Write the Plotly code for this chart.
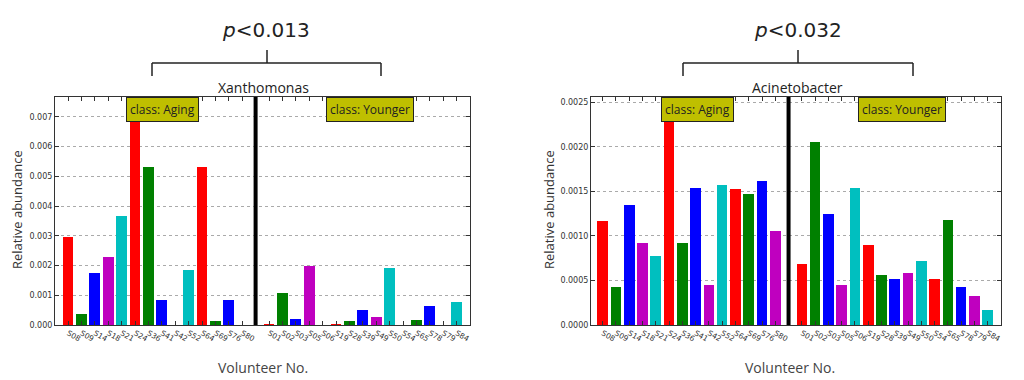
import plotly.graph_objects as go

# ---------------- data ----------------
aging_ids = ["S08", "S09", "S14", "S18", "S21", "S24", "S36", "S41", "S42", "S52", "S64", "S69", "S76", "S80"]
younger_ids = ["S01", "S02", "S03", "S05", "S06", "S19", "S28", "S39", "S49", "S50", "S54", "S65", "S78", "S79", "S84"]

xantho_aging = [0.00297, 0.00036, 0.00176, 0.00230, 0.00366, 0.00850, 0.00533, 0.00085, 0.0, 0.00186, 0.00532, 0.00013, 0.00084, 0.0]
xantho_younger = [0.00003, 0.00107, 0.00019, 0.00199, 0.0, 0.00003, 0.00012, 0.00050, 0.00027, 0.00193, 0.0, 0.00018, 0.00064, 0.0, 0.00076]

acineto_aging = [0.00117, 0.00043, 0.00135, 0.00092, 0.00077, 0.00300, 0.00092, 0.00154, 0.00045, 0.00157, 0.00153, 0.00147, 0.00162, 0.00105]
acineto_younger = [0.00069, 0.00205, 0.00125, 0.00045, 0.00154, 0.00090, 0.00056, 0.00052, 0.00058, 0.00072, 0.00052, 0.00118, 0.00043, 0.00033, 0.00017]

panel_titles = ["Xanthomonas", "Acinetobacter"]
p_values = ["0.013", "0.032"]
y_ranges = [[0, 0.00767], [0, 0.00256]]
y_ticks = [[0.000, 0.001, 0.002, 0.003, 0.004, 0.005, 0.006, 0.007],
           [0.0, 0.0005, 0.0010, 0.0015, 0.0020, 0.0025]]
y_tick_text = [["0.000", "0.001", "0.002", "0.003", "0.004", "0.005", "0.006", "0.007"],
               ["0.0000", "0.0005", "0.0010", "0.0015", "0.0020", "0.0025"]]

palette = ["#ff0000", "#008000", "#0000ff", "#bf00bf", "#00bfbf"]

# ---------------- layout helpers ----------------
OFF = 8          # page body margin
W, H = 1024 - OFF, 380 - OFF


def px(x):
    return (x - OFF) / W


def py(y):
    return 1 - (y - OFF) / H


n_aging = len(aging_ids)
sep_slot = n_aging
aging_x = list(range(n_aging))
younger_x = [sep_slot + 1 + i for i in range(len(younger_ids))]
tickvals = aging_x + younger_x
ticktext = aging_ids + younger_ids

x_domains = [[px(55), px(470)], [px(591), px(1001)]]
y_domain = [py(325), py(97)]
x_ranges = [[-0.97, 30], [-0.88, 30]]

fig = go.Figure()

panels = [(xantho_aging, xantho_younger), (acineto_aging, acineto_younger)]
for k, (ag, yo) in enumerate(panels):
    xa = "x" if k == 0 else "x2"
    ya = "y" if k == 0 else "y2"
    fig.add_trace(go.Bar(x=aging_x, y=ag, width=0.8,
                         marker=dict(color=[palette[i % 5] for i in range(len(ag))], line=dict(width=0)),
                         xaxis=xa, yaxis=ya, showlegend=False))
    fig.add_trace(go.Bar(x=younger_x, y=yo, width=0.8,
                         marker=dict(color=[palette[i % 5] for i in range(len(yo))], line=dict(width=0)),
                         xaxis=xa, yaxis=ya, showlegend=False))
    # separator between groups
    fig.add_shape(type="line", xref=xa, yref=ya + " domain", x0=sep_slot, x1=sep_slot, y0=0, y1=1,
                  line=dict(color="black", width=4))

axis_common = dict(showline=True, linecolor="#333", linewidth=1, mirror="allticks",
                   ticks="inside", ticklen=4, tickcolor="#333", zeroline=False)

for k in range(2):
    sfx = "" if k == 0 else "2"
    fig.layout["xaxis" + sfx] = dict(
        domain=x_domains[k], range=x_ranges[k], anchor="y" + sfx,
        tickmode="array", tickvals=tickvals, ticktext=ticktext, tickangle=30,
        tickfont=dict(family="DejaVu Sans", size=7.5, color="#333"),
        showgrid=False, automargin=False, **axis_common)
    fig.layout["yaxis" + sfx] = dict(
        domain=y_domain, range=y_ranges[k], anchor="x" + sfx,
        tickmode="array", tickvals=y_ticks[k], ticktext=y_tick_text[k],
        tickfont=dict(family="DejaVu Sans", size=8, color="#333"),
        showgrid=True, gridcolor="#aaa", griddash="dot", gridwidth=1,
        automargin=False, **axis_common)

annotations = []
shapes_extra = []
for k in range(2):
    # panel title
    annotations.append(dict(text=panel_titles[k], xref="paper", yref="paper",
                            x=px(263 if k == 0 else 797), y=py(87),
                            showarrow=False, font=dict(family="Open Sans", size=14, color="#222"),
                            xanchor="center", yanchor="middle"))
    # y title
    annotations.append(dict(text="Relative abundance", xref="paper", yref="paper",
                            x=px(17 if k == 0 else 549), y=py(210), textangle=-90,
                            showarrow=False, font=dict(family="Open Sans", size=13, color="#333"),
                            xanchor="center", yanchor="middle"))
    # x title
    annotations.append(dict(text="Volunteer No.", xref="paper", yref="paper",
                            x=px(263 if k == 0 else 790), y=py(367),
                            showarrow=False, font=dict(family="Open Sans", size=14, color="#444"),
                            xanchor="center", yanchor="middle"))
    # p value
    annotations.append(dict(text="<i>p</i>&lt;" + p_values[k], xref="paper", yref="paper",
                            x=px(266 if k == 0 else 798), y=py(30),
                            showarrow=False, font=dict(family="DejaVu Sans", size=20, color="#222"),
                            xanchor="center", yanchor="middle"))
    # class boxes
    for label, xc in [("class: Aging", 162 if k == 0 else 697), ("class: Younger", 370 if k == 0 else 902)]:
        annotations.append(dict(text=label, xref="paper", yref="paper", x=px(xc), y=py(109),
                                showarrow=False, font=dict(family="Open Sans", size=12, color="#222"),
                                bgcolor="#bfbf00", bordercolor="#222", borderwidth=1, borderpad=3,
                                xanchor="center", yanchor="middle"))
    # bracket
    bl, br, bm = [(152, 381, 267), (683, 913, 798)][k]
    for (ax0, ay0, ax1, ay1) in [(bl, 63, br, 63), (bl, 63, bl, 76), (br, 63, br, 76), (bm, 50, bm, 63)]:
        shapes_extra.append(dict(type="line", xref="paper", yref="paper",
                                 x0=px(ax0), x1=px(ax1), y0=py(ay0), y1=py(ay1),
                                 line=dict(color="#222", width=1.5)))

for s in shapes_extra:
    fig.add_shape(**s)

fig.update_layout(width=W, height=H, margin=dict(l=0, r=0, t=0, b=0),
                  paper_bgcolor="white", plot_bgcolor="white", bargap=0,
                  annotations=annotations, showlegend=False)

fig.write_html("out.html")
